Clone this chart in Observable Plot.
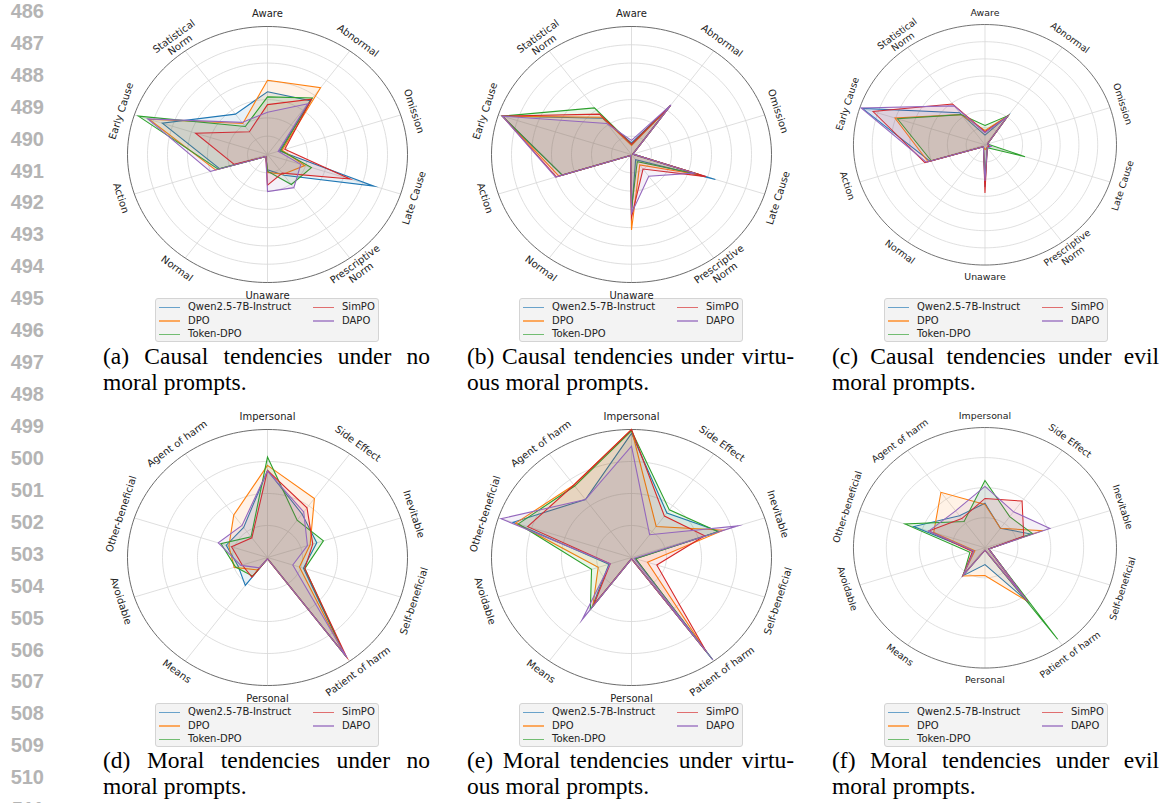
<!DOCTYPE html>
<html>
<head>
<meta charset="utf-8">
<script src="https://cdn.jsdelivr.net/npm/d3@7"></script>
<script src="https://cdn.jsdelivr.net/npm/@observablehq/plot@0.6"></script>
<style>
  html, body { margin: 0; padding: 0; background: #fff; }
  #page { position: relative; width: 1163px; height: 803px; overflow: hidden; background: #fff; }
  .chart { position: absolute; z-index: 2; pointer-events: none; }
  .lineno { position: absolute; left: 0; width: 44px; text-align: right; font-family: "Liberation Sans", Arial, sans-serif; font-weight: bold; font-size: 20px; color: #b4b4b4; line-height: 20px; }
  .legend { position: absolute; z-index: 1; width: 222px; height: 42px; background: rgba(242,242,242,0.9); border: 1px solid #d4d4d4; border-radius: 3px; font-family: "DejaVu Sans", sans-serif; font-size: 10px; color: #222; }
  .legend .item { position: absolute; height: 12px; line-height: 12px; white-space: nowrap; }
  .legend .swatch { position: absolute; top: 5.5px; width: 21px; height: 1.6px; opacity: 0.65; }
  .legend .lab { position: absolute; left: 29px; top: 0; }
  .caption { position: absolute; width: 327px; font-family: "Liberation Serif", "Times New Roman", serif; font-size: 23.5px; color: #000; line-height: 26px; }
  .caption .l1 { text-align: justify; text-align-last: justify; white-space: nowrap; }
  .caption .l2 { text-align: left; }
</style>
</head>
<body>
<div id="page"></div>
<script>
// ---------- categories ----------
const causalAxes = ["Aware", "Abnormal", "Omission", "Late Cause", "Prescriptive\nNorm", "Unaware", "Normal", "Action", "Early Cause", "Statistical\nNorm"];
const moralAxes = ["Impersonal", "Side Effect", "Inevitable", "Self-beneficial", "Patient of harm", "Personal", "Means", "Avoidable", "Other-beneficial", "Agent of harm"];
const models = ["Qwen2.5-7B-Instruct", "DPO", "Token-DPO", "SimPO", "DAPO"];
const colors = ["#1f77b4", "#ff7f0e", "#2ca02c", "#d62728", "#9467bd"];
const lineNumbers = d3.range(486, 512);

// ---------- series values (fraction of outer radius), rows follow `models` ----------
const causalNoMoral = [
  [0.49, 0.52, 0.09, 0.80, 0.20, 0.12, 0.02, 0.36, 0.79, 0.39],
  [0.58, 0.645, 0.11, 0.28, 0.19, 0.14, 0.02, 0.39, 0.89, 0.30],
  [0.45, 0.545, 0.10, 0.33, 0.29, 0.13, 0.02, 0.37, 0.97, 0.27],
  [0.39, 0.535, 0.13, 0.62, 0.18, 0.24, 0.02, 0.25, 0.54, 0.22],
  [0.33, 0.49, 0.08, 0.25, 0.32, 0.29, 0.02, 0.43, 0.90, 0.31]
];
const causalVirtuous = [
  [0.09, 0.47, 0.01, 0.63, 0.05, 0.47, 0.01, 0.52, 0.97, 0.35],
  [0.07, 0.47, 0.01, 0.52, 0.10, 0.59, 0.01, 0.545, 0.97, 0.36],
  [0.08, 0.47, 0.01, 0.50, 0.07, 0.42, 0.01, 0.52, 0.97, 0.45],
  [0.08, 0.47, 0.01, 0.56, 0.14, 0.49, 0.01, 0.565, 0.97, 0.39],
  [0.11, 0.48, 0.01, 0.47, 0.21, 0.46, 0.01, 0.57, 0.97, 0.30]
];
const causalEvil = [
  [0.08, 0.30, 0.02, 0.04, 0.03, 0.35, 0.02, 0.44, 0.98, 0.33],
  [0.12, 0.30, 0.02, 0.03, 0.03, 0.04, 0.02, 0.455, 0.72, 0.31],
  [0.16, 0.30, 0.02, 0.32, 0.03, 0.25, 0.02, 0.43, 0.70, 0.31],
  [0.11, 0.29, 0.02, 0.03, 0.03, 0.40, 0.02, 0.48, 0.895, 0.42],
  [0.10, 0.29, 0.02, 0.05, 0.03, 0.30, 0.02, 0.47, 0.99, 0.40]
];
const moralNoMoral = [
  [0.68, 0.42, 0.37, 0.27, 0.93, 0.01, 0.27, 0.22, 0.31, 0.29],
  [0.72, 0.57, 0.32, 0.24, 0.92, 0.01, 0.12, 0.25, 0.29, 0.41],
  [0.785, 0.36, 0.42, 0.28, 0.94, 0.01, 0.18, 0.24, 0.35, 0.20],
  [0.68, 0.48, 0.34, 0.28, 0.96, 0.01, 0.19, 0.19, 0.27, 0.19],
  [0.675, 0.44, 0.30, 0.19, 0.965, 0.01, 0.10, 0.20, 0.37, 0.31]
];
const moralVirtuous = [
  [0.97, 0.43, 0.66, 0.03, 0.98, 0.01, 0.48, 0.17, 0.89, 0.56],
  [1.00, 0.30, 0.69, 0.12, 0.90, 0.01, 0.47, 0.25, 0.87, 0.70],
  [0.99, 0.46, 0.65, 0.03, 0.98, 0.01, 0.50, 0.30, 0.85, 0.69],
  [1.00, 0.40, 0.55, 0.19, 0.91, 0.01, 0.46, 0.16, 0.78, 0.70],
  [0.87, 0.22, 0.80, 0.02, 0.99, 0.01, 0.60, 0.16, 0.98, 0.56]
];
const moralEvil = [
  [0.37, 0.20, 0.37, 0.03, 0.55, 0.14, 0.29, 0.09, 0.57, 0.33],
  [0.36, 0.20, 0.46, 0.03, 0.55, 0.23, 0.29, 0.08, 0.41, 0.57],
  [0.56, 0.32, 0.38, 0.03, 0.94, 0.02, 0.28, 0.12, 0.64, 0.27],
  [0.41, 0.48, 0.31, 0.03, 0.55, 0.02, 0.28, 0.10, 0.45, 0.30],
  [0.51, 0.37, 0.52, 0.03, 0.55, 0.02, 0.28, 0.09, 0.45, 0.38]
];

const captions = [
  ["(a) Causal tendencies under no", "moral prompts."],
  ["(b) Causal tendencies under virtu-", "ous moral prompts."],
  ["(c) Causal tendencies under evil", "moral prompts."],
  ["(d) Moral tendencies under no", "moral prompts."],
  ["(e) Moral tendencies under virtu-", "ous moral prompts."],
  ["(f) Moral tendencies under evil", "moral prompts."]
];

// ---------- layout ----------
const page = document.getElementById("page");
const RX = 140, RY = 128;
const W = 380, H = 320;

function radar(values, axes, nRings, cx, cy) {
  const n = axes.length;
  const ang = i => i * 2 * Math.PI / n;
  const axisData = axes.map((a, i) => ({label: a, i, deg: i * 360 / n}));
  const circle = d3.range(0, 360, 2).map(d => d * Math.PI / 180);
  const ringData = [];
  for (let k = 1; k < nRings; k++) circle.forEach(t => ringData.push({k, x: (k / nRings) * Math.sin(t), y: (k / nRings) * Math.cos(t)}));
  const spine = circle.map(t => ({x: Math.sin(t), y: Math.cos(t)}));
  const marks = [
    Plot.line(ringData, {x: "x", y: "y", z: "k", stroke: "#d6d6d6", strokeWidth: 0.8, curve: "linear-closed"}),
    Plot.link(axisData, {x1: 0, y1: 0, x2: d => Math.sin(ang(d.i)), y2: d => Math.cos(ang(d.i)), stroke: "#d6d6d6", strokeWidth: 0.8}),
    Plot.line(spine, {x: "x", y: "y", stroke: "#5a5a5a", strokeWidth: 0.9, curve: "linear-closed"})
  ];
  values.forEach((row, s) => {
    const pts = row.map((v, i) => ({x: v * Math.sin(ang(i)), y: v * Math.cos(ang(i))}));
    marks.push(Plot.line(pts, {x: "x", y: "y", curve: "linear-closed", stroke: colors[s], strokeWidth: 1.1, fill: colors[s], fillOpacity: 0.1, strokeLinejoin: "miter", strokeMiterlimit: 10}));
  });
  marks.push(Plot.text(axisData, {
    x: d => 1.1 * Math.sin(ang(d.i)),
    y: d => 1.1 * Math.cos(ang(d.i)),
    text: "label",
    rotate: d => ((d.deg + 90) % 180) - 90,
    fontSize: 10,
    fill: "#222",
    lineHeight: 1.05,
    fontFamily: "DejaVu Sans"
  }));
  const svg = Plot.plot({
    width: W, height: H, margin: 0,
    x: {domain: [-1, 1], range: [W / 2 - RX, W / 2 + RX]},
    y: {domain: [-1, 1], range: [H / 2 + RY, H / 2 - RY]},
    axis: null,
    style: {overflow: "visible", background: "transparent", fontFamily: "DejaVu Sans"},
    marks
  });
  const wrap = document.createElement("div");
  wrap.className = "chart";
  wrap.style.left = (cx - W / 2) + "px";
  wrap.style.top = (cy - H / 2) + "px";
  wrap.appendChild(svg);
  page.appendChild(wrap);
}

function legend(cx, top) {
  const box = document.createElement("div");
  box.className = "legend";
  box.style.left = (cx - 112) + "px";
  box.style.top = top + "px";
  const pos = [[0, 0], [0, 1], [0, 2], [1, 0], [1, 1]];
  models.forEach((m, i) => {
    const [col, row] = pos[i];
    const it = document.createElement("div");
    it.className = "item";
    it.style.left = (col ? 157 : 3) + "px";
    it.style.top = (2 + row * 13.5) + "px";
    it.innerHTML = `<div class="swatch" style="background:${colors[i]}"></div><div class="lab">${m}</div>`;
    box.appendChild(it);
  });
  page.appendChild(box);
}

function caption(cx, top, lines) {
  const c = document.createElement("div");
  c.className = "caption";
  c.style.left = (cx - 164) + "px";
  c.style.top = top + "px";
  c.innerHTML = `<div class="l1">${lines[0]}</div><div class="l2">${lines[1]}</div>`;
  page.appendChild(c);
}

// line numbers
lineNumbers.forEach((num, i) => {
  const d = document.createElement("div");
  d.className = "lineno";
  d.style.top = (10.9 + i * 31.93 - 10) + "px";
  d.textContent = num;
  page.appendChild(d);
});

const cxs = [267, 631, 996];
const topCy = 154, botCy = 557;
const topData = [causalNoMoral, causalVirtuous, causalEvil];
const botData = [moralNoMoral, moralVirtuous, moralEvil];
cxs.forEach((cx, j) => {
  radar(topData[j], causalAxes, 7, cx, topCy);
  radar(botData[j], moralAxes, 4, cx, botCy);
  legend(cx, 298);
  legend(cx, 703);
  caption(cx, 343, captions[j]);
  caption(cx, 747, captions[j + 3]);
});
</script>
</body>
</html>
